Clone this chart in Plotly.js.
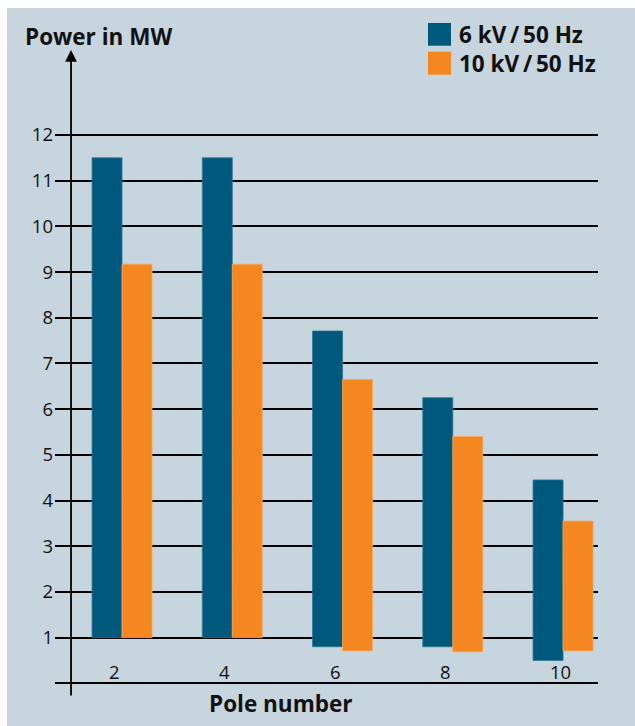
<!DOCTYPE html>
<html>
<head>
<meta charset="utf-8">
<script src="https://cdn.plot.ly/plotly-3.0.1.min.js"></script>
<style>html,body{margin:0;padding:0;background:#fff;}#chart{width:635px;height:726px;}</style>
</head>
<body>
<div id="chart"></div>
<script>
// Data
const poleNumbers = ['2', '4', '6', '8', '10'];
const seriesNames = ['6 kV\u2009/\u200950 Hz', '10 kV\u2009/\u200950 Hz'];
const blueTop = [11.5, 11.5, 7.71, 6.25, 4.45];
const blueBase = [1.0, 1.0, 0.80, 0.80, 0.50];
const orangeTop = [9.17, 9.17, 6.65, 5.40, 3.55];
const orangeBase = [1.0, 1.0, 0.71, 0.69, 0.71];
const yTickVals = [1, 2, 3, 4, 5, 6, 7, 8, 9, 10, 11, 12];

const BLUE = '#00587C';
const ORANGE = '#F58720';
const BG = '#C7D5DE';
const FONT = 'Open Sans, Noto Sans, sans-serif';

const traces = [
  {
    type: 'bar', name: seriesNames[0], x: poleNumbers,
    y: blueTop.map((t, i) => t - blueBase[i]), base: blueBase,
    marker: {color: BLUE, line: {color: '#2f7594', width: 0.8}},
    hoverinfo: 'skip'
  },
  {
    type: 'bar', name: seriesNames[1], x: poleNumbers,
    y: orangeTop.map((t, i) => t - orangeBase[i]), base: orangeBase,
    marker: {color: ORANGE, line: {color: '#f7a45a', width: 0.8}},
    hoverinfo: 'skip'
  }
];

const annotations = [
  // y axis arrow
  {xref: 'paper', yref: 'paper', x: 0.0295, y: 1.0, ax: 0, ay: 647, axref: 'pixel', ayref: 'pixel',
   text: '', showarrow: true, arrowhead: 2, arrowsize: 1.3, arrowwidth: 1.8, arrowcolor: '#000'},
  {xref: 'paper', yref: 'paper', x: -0.0589, y: 1.0216, xanchor: 'left', yanchor: 'middle',
   text: '<b>Power in MW</b>', showarrow: false, font: {family: FONT, size: 22.5, color: '#111'}},
  {xref: 'paper', yref: 'paper', x: 0.416, y: -0.0093, xanchor: 'center', yanchor: 'middle',
   text: '<b>Pole number</b>', showarrow: false, font: {family: FONT, size: 22.5, color: '#111'}},
  {xref: 'paper', yref: 'paper', x: 0.7403, y: 1.0247, xanchor: 'left', yanchor: 'middle',
   text: '<b>' + seriesNames[0] + '</b>', showarrow: false, font: {family: FONT, size: 22.5, color: '#111'}},
  {xref: 'paper', yref: 'paper', x: 0.7403, y: 0.9799, xanchor: 'left', yanchor: 'middle',
   text: '<b>' + seriesNames[1] + '</b>', showarrow: false, font: {family: FONT, size: 22.5, color: '#111'}}
].concat(poleNumbers.map((p, i) => ({
  x: i, y: 0, xref: 'x', yref: 'y', xanchor: 'left', yanchor: 'bottom', xshift: -15, yshift: -3,
  text: p, showarrow: false, font: {family: FONT, size: 18.5, color: '#111'}
})));

const layout = {
  width: 635, height: 726,
  margin: {l: 55, r: 37, t: 50, b: 29, pad: 0},
  paper_bgcolor: '#ffffff',
  plot_bgcolor: 'rgba(0,0,0,0)',
  showlegend: false,
  barmode: 'group', bargap: 0.456, bargroupgap: 0,
  font: {family: FONT, color: '#111'},
  xaxis: {type: 'category', range: [-0.608, 4.317], showgrid: false, zeroline: false,
          showticklabels: false, showline: false, ticks: '', fixedrange: true},
  yaxis: {range: [-0.3, 13.86], tickvals: yTickVals, ticktext: yTickVals.map(String),
          showgrid: true, gridcolor: '#000', gridwidth: 2,
          zeroline: true, zerolinecolor: '#000', zerolinewidth: 2,
          showline: false, ticks: '', ticklabelstandoff: 1,
          tickfont: {family: FONT, size: 18.5, color: '#111'}, fixedrange: true},
  shapes: [
    {type: 'rect', xref: 'paper', yref: 'paper', x0: -0.0884, x1: 1.07, y0: -0.05, y1: 1.065,
     fillcolor: BG, line: {width: 0}, layer: 'below'},
    {type: 'rect', xref: 'paper', yref: 'paper', x0: 0.6869, x1: 0.7293, y0: 1.0066, y1: 1.0417,
     fillcolor: BLUE, line: {width: 0}},
    {type: 'rect', xref: 'paper', yref: 'paper', x0: 0.6869, x1: 0.7293, y0: 0.9618, y1: 0.9974,
     fillcolor: ORANGE, line: {width: 0}}
  ],
  annotations: annotations
};

Plotly.newPlot('chart', traces, layout, {displayModeBar: false, staticPlot: true});
</script>
</body>
</html>
